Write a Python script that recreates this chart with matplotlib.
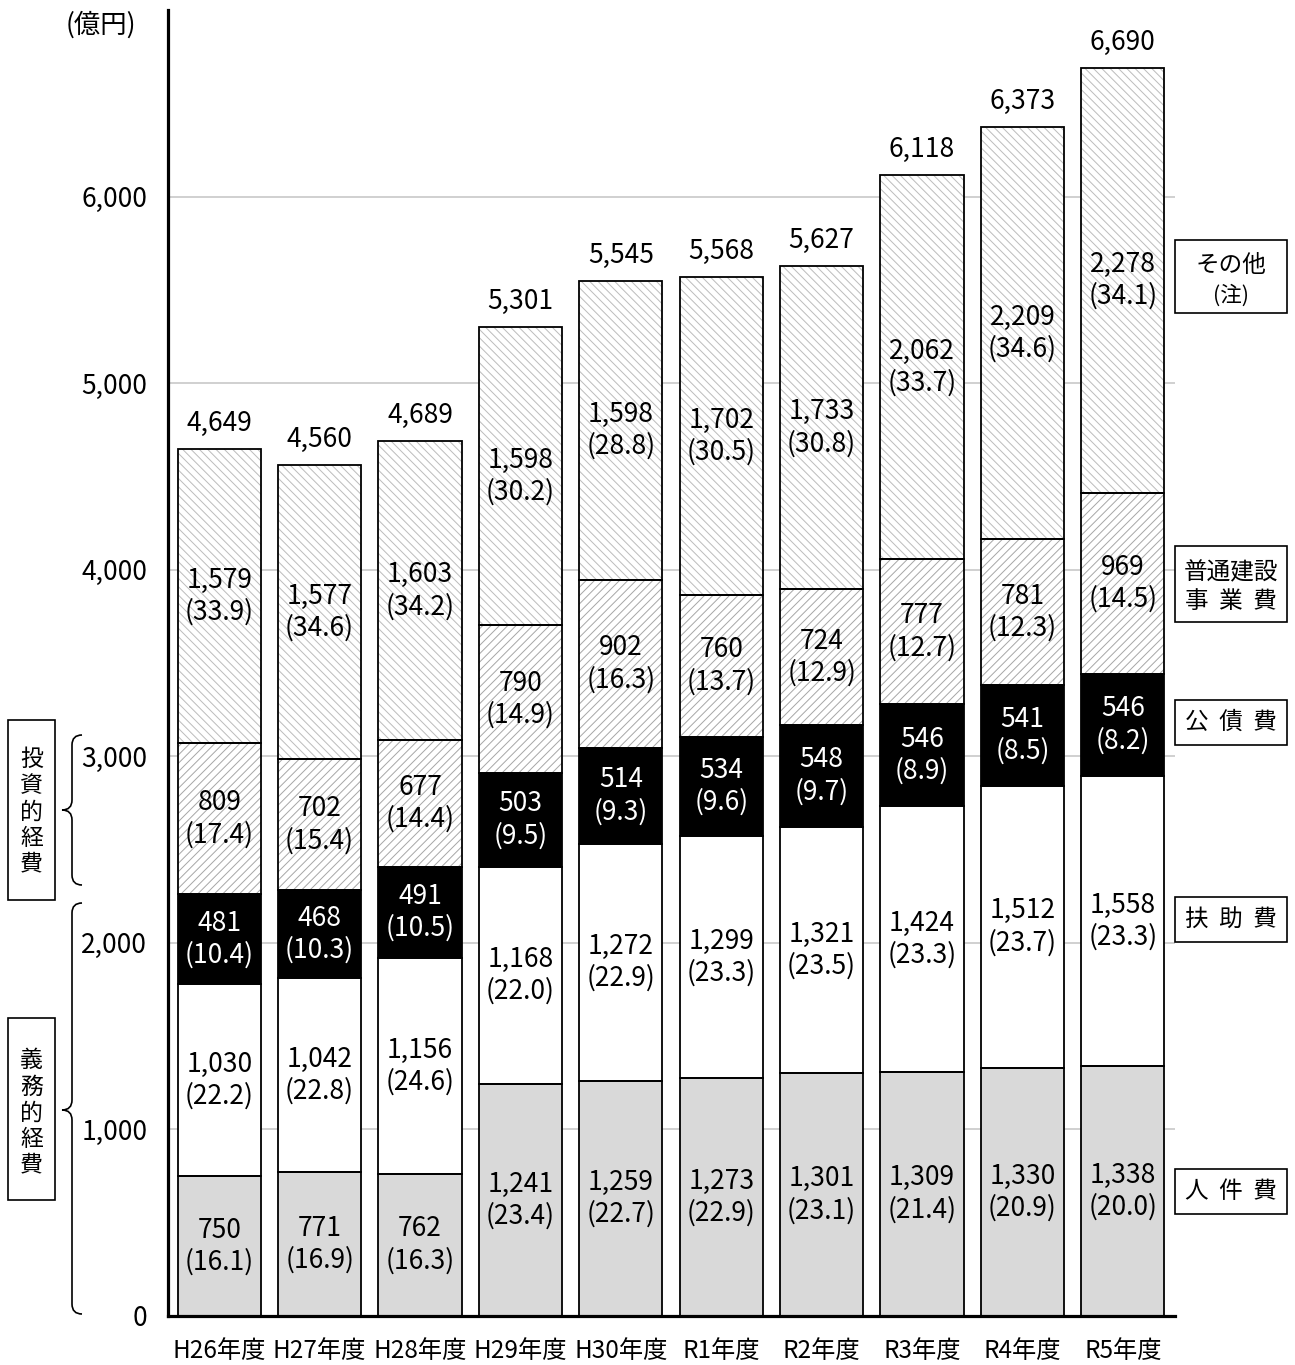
import matplotlib
matplotlib.use("Agg")
import matplotlib.pyplot as plt
from matplotlib.patches import Rectangle, PathPatch
from matplotlib.path import Path
import numpy as np

plt.rcParams['font.family'] = ['Noto Sans CJK JP', 'DejaVu Sans']
plt.rcParams['hatch.linewidth'] = 0.7

# data (億円, % in parentheses)
years = ["H26年度", "H27年度", "H28年度", "H29年度", "H30年度",
         "R1年度", "R2年度", "R3年度", "R4年度", "R5年度"]
jinken = [750, 771, 762, 1241, 1259, 1273, 1301, 1309, 1330, 1338]
jinken_pct = [16.1, 16.9, 16.3, 23.4, 22.7, 22.9, 23.1, 21.4, 20.9, 20.0]
fujo = [1030, 1042, 1156, 1168, 1272, 1299, 1321, 1424, 1512, 1558]
fujo_pct = [22.2, 22.8, 24.6, 22.0, 22.9, 23.3, 23.5, 23.3, 23.7, 23.3]
kosai = [481, 468, 491, 503, 514, 534, 548, 546, 541, 546]
kosai_pct = [10.4, 10.3, 10.5, 9.5, 9.3, 9.6, 9.7, 8.9, 8.5, 8.2]
futsu = [809, 702, 677, 790, 902, 760, 724, 777, 781, 969]
futsu_pct = [17.4, 15.4, 14.4, 14.9, 16.3, 13.7, 12.9, 12.7, 12.3, 14.5]
sonota = [1579, 1577, 1603, 1598, 1598, 1702, 1733, 2062, 2209, 2278]
sonota_pct = [33.9, 34.6, 34.2, 30.2, 28.8, 30.5, 30.8, 33.7, 34.6, 34.1]
totals = [4649, 4560, 4689, 5301, 5545, 5568, 5627, 6118, 6373, 6690]

W, H = 1295, 1365
fig = plt.figure(figsize=(W / 100, H / 100), dpi=100)
ax = fig.add_axes([168 / W, 49 / H, 1007 / W, 1306 / H])

x = np.arange(len(years))
bw = 0.83
fs = 19

# (values, pct, face, hatch, hatch colour, text colour)
layers = [
    (jinken, jinken_pct, '#d9d9d9', None, None, 'black'),
    (fujo, fujo_pct, 'white', None, None, 'black'),
    (kosai, kosai_pct, 'black', None, None, 'white'),
    (futsu, futsu_pct, 'white', '////', '#a6a6a6', 'black'),
    (sonota, sonota_pct, 'white', '\\\\\\\\', '#bcbcbc', 'black'),
]

bottom = np.zeros(len(years))
for vals, pct, face, hatch, hcol, tcol in layers:
    vals = np.array(vals, dtype=float)
    if hatch:
        ax.bar(x, vals, bw, bottom=bottom, color=face, edgecolor=hcol,
               hatch=hatch, linewidth=0, zorder=2)
    else:
        ax.bar(x, vals, bw, bottom=bottom, color=face, linewidth=0, zorder=2)
    ax.bar(x, vals, bw, bottom=bottom, fill=False, edgecolor='black',
           linewidth=1.3, zorder=3)
    for xi, v, p, b in zip(x, vals, pct, bottom):
        mid = b + v / 2
        ax.annotate(f"{int(v):,}", (xi, mid), xytext=(0, 11.5),
                    textcoords='offset points', ha='center', va='center',
                    fontsize=fs, color=tcol, zorder=4)
        ax.annotate(f"({p:.1f})", (xi, mid), xytext=(0, -11.5),
                    textcoords='offset points', ha='center', va='center',
                    fontsize=fs, color=tcol, zorder=4)
    bottom += vals

for xi, t in zip(x, totals):
    ax.annotate(f"{t:,}", (xi, t), xytext=(0, 13), textcoords='offset points',
                ha='center', va='baseline', fontsize=fs, zorder=4)

ax.set_xlim(-0.51, 9.52)
ax.set_ylim(0, 7000)
ax.set_yticks(range(0, 7000, 1000))
ax.set_yticklabels([f"{v:,}" for v in range(0, 7000, 1000)], fontsize=fs)
ax.set_xticks(x)
ax.set_xticklabels(years, fontsize=17.5)
ax.tick_params(axis='y', length=0, pad=15)
ax.tick_params(axis='x', length=0, pad=16)
ax.yaxis.grid(True, color='#c8c8c8', linewidth=1.2)
ax.set_axisbelow(True)
for s in ['top', 'right']:
    ax.spines[s].set_visible(False)
ax.spines['left'].set_linewidth(2.3)
ax.spines['bottom'].set_linewidth(2.3)

# overlay in pixel coords for unit, boxes and braces
ov = fig.add_axes([0, 0, 1, 1])
ov.set_xlim(0, W)
ov.set_ylim(H, 0)
ov.axis('off')

ov.text(101, 25, "(億円)", ha='center', va='center', fontsize=19)


def brace(top, bot, tip):
    verts = [(82, top), (72, top), (72, top + 10),
             (72, tip - 10), (72, tip), (62, tip),
             (72, tip), (72, tip + 10),
             (72, bot - 10), (72, bot), (82, bot)]
    codes = [Path.MOVETO, Path.CURVE3, Path.CURVE3,
             Path.LINETO, Path.CURVE3, Path.CURVE3,
             Path.CURVE3, Path.CURVE3,
             Path.LINETO, Path.CURVE3, Path.CURVE3]
    ov.add_patch(PathPatch(Path(verts, codes), fill=False, lw=1.2, color='black'))


brace(735, 885, 810)
brace(903, 1314, 1110)

# left boxes
ov.add_patch(Rectangle((8, 720), 47, 180, fill=False, lw=1.2, ec='black'))
ov.text(31.5, 812, "投\n資\n的\n経\n費", ha='center', va='center',
        fontsize=16.5, linespacing=1.17)
ov.add_patch(Rectangle((8, 1018), 47, 182, fill=False, lw=1.2, ec='black'))
ov.text(31.5, 1113, "義\n務\n的\n経\n費", ha='center', va='center',
        fontsize=16.5, linespacing=1.17)

# right boxes
bx0, bx1 = 1175, 1287
bxc = (bx0 + bx1) / 2
right_boxes = [
    (240, 313, [("その他", 266, 17), ("(注)", 296, 15.5)]),
    (546, 622, [("普通建設", 573, 17), ("事  業  費", 602, 17)]),
    (700, 745, [("公  債  費", 722, 17)]),
    (897, 942, [("扶  助  費", 920, 17)]),
    (1169, 1214, [("人  件  費", 1192, 17)]),
]
for y0, y1, lines in right_boxes:
    ov.add_patch(Rectangle((bx0, y0), bx1 - bx0, y1 - y0, fill=False,
                           lw=1.2, ec='black'))
    for txt, yc, f in lines:
        ov.text(bxc, yc, txt, ha='center', va='center', fontsize=f)

fig.savefig("out.png", dpi=100)
